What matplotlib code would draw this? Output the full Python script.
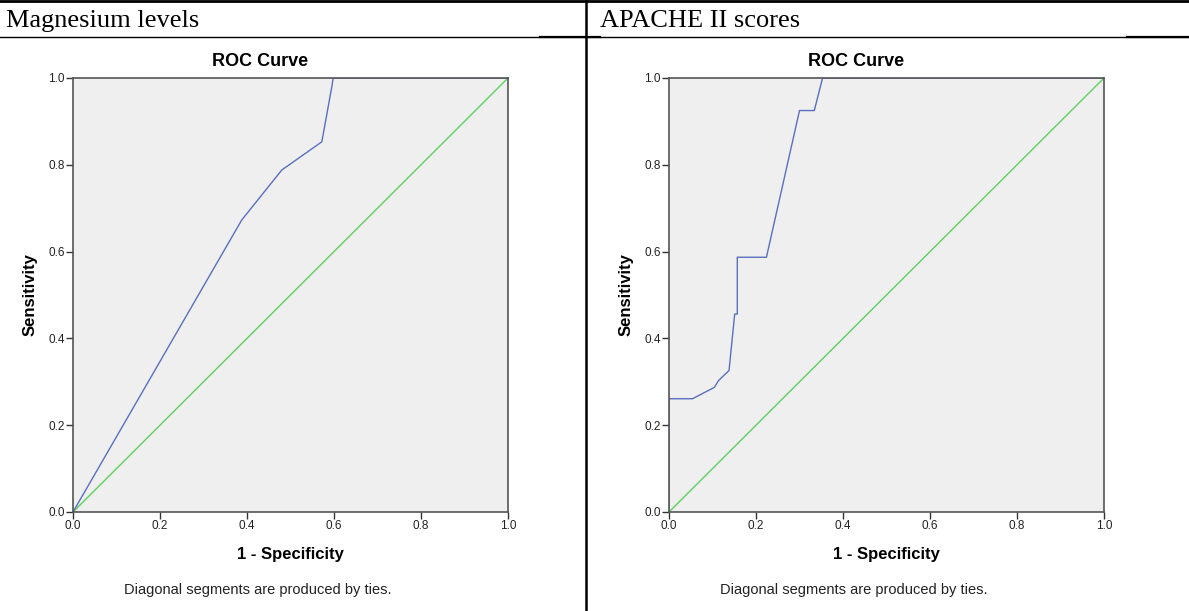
import matplotlib.pyplot as plt
from matplotlib.lines import Line2D

W, H = 1189, 611

# Magnesium levels ROC curve
mg_fpr = [0.0, 0.388, 0.48, 0.572, 0.595, 0.598, 1.0]
mg_tpr = [0.0, 0.673, 0.788, 0.853, 0.98, 1.0, 1.0]

# APACHE II scores ROC curve
ap_fpr = [0.0, 0.0, 0.054, 0.104, 0.114, 0.138, 0.151, 0.157, 0.157, 0.224, 0.300, 0.334, 0.353, 1.0]
ap_tpr = [0.0, 0.261, 0.261, 0.287, 0.303, 0.326, 0.456, 0.456, 0.587, 0.587, 0.925, 0.925, 1.0, 1.0]

headers = ["Magnesium levels", "APACHE II scores"]
ticks = [0.0, 0.2, 0.4, 0.6, 0.8, 1.0]
tick_labels = ["0.0", "0.2", "0.4", "0.6", "0.8", "1.0"]

fig = plt.figure(figsize=(W / 100, H / 100), dpi=100)


def px(x0, y0, w, h):
    return [x0 / W, (H - y0 - h) / H, w / W, h / H]


def roc_panel(x0, fpr, tpr):
    ax = fig.add_axes(px(x0, 78, 435, 434))
    ax.set_facecolor('#efefef')
    ax.plot([0, 1], [0, 1], color='#5fcf5f', lw=1.0)
    ax.plot(fpr, tpr, color='#5a6fc0', lw=1.0)
    ax.set_xlim(0, 1)
    ax.set_ylim(0, 1)
    for s in ax.spines.values():
        s.set_color('#555555')
        s.set_linewidth(1.2)
    ax.set_xticks(ticks)
    ax.set_yticks(ticks)
    ax.set_xticklabels(tick_labels, fontsize=8.5, color='#222222', family='Liberation Sans')
    ax.set_yticklabels(tick_labels, fontsize=8.5, color='#222222', family='Liberation Sans')
    ax.tick_params(length=5, width=1, color='#333333', pad=1)
    # title sits over the whole chart area, not just the plot box
    fig.text((x0 + 187) / W, 1 - 62 / H, "ROC Curve", ha='center', va='center',
             fontsize=13, fontweight='bold', family='Liberation Sans')
    ax.set_xlabel("1 - Specificity", fontsize=12, fontweight='bold', family='Liberation Sans')
    ax.xaxis.set_label_coords(0.5, -42 / 434)
    ax.xaxis.label.set_va('center')
    ax.set_ylabel("Sensitivity", fontsize=12, fontweight='bold', family='Liberation Sans')
    ax.yaxis.set_label_coords(-43 / 435, 0.5)
    ax.yaxis.label.set_va('center')
    fig.text((x0 + 185) / W, 1 - 590 / H, "Diagonal segments are produced by ties.",
             fontsize=10.5, family='Liberation Sans', ha='center', va='center', color='#222222')
    return ax


roc_panel(73, mg_fpr, mg_tpr)
roc_panel(669, ap_fpr, ap_tpr)

# table headers
fig.text(6 / W, 1 - 21 / H, headers[0], fontsize=19, family='Liberation Serif', va='center')
fig.text(600 / W, 1 - 21 / H, headers[1], fontsize=19, family='Liberation Serif', va='center')

# table rules
def hline(y, x1, x2, lw):
    fig.add_artist(Line2D([x1 / W, x2 / W], [1 - y / H, 1 - y / H], color='black', lw=lw))


hline(1, 0, W, 2.0)
hline(36.5, 0, W, 1.0)
hline(37, 540, 600, 1.6)
hline(37, 1127, W, 1.6)
fig.add_artist(Line2D([586 / W, 586 / W], [0, 1], color='black', lw=1.8))

fig.savefig("out.png", dpi=100)
